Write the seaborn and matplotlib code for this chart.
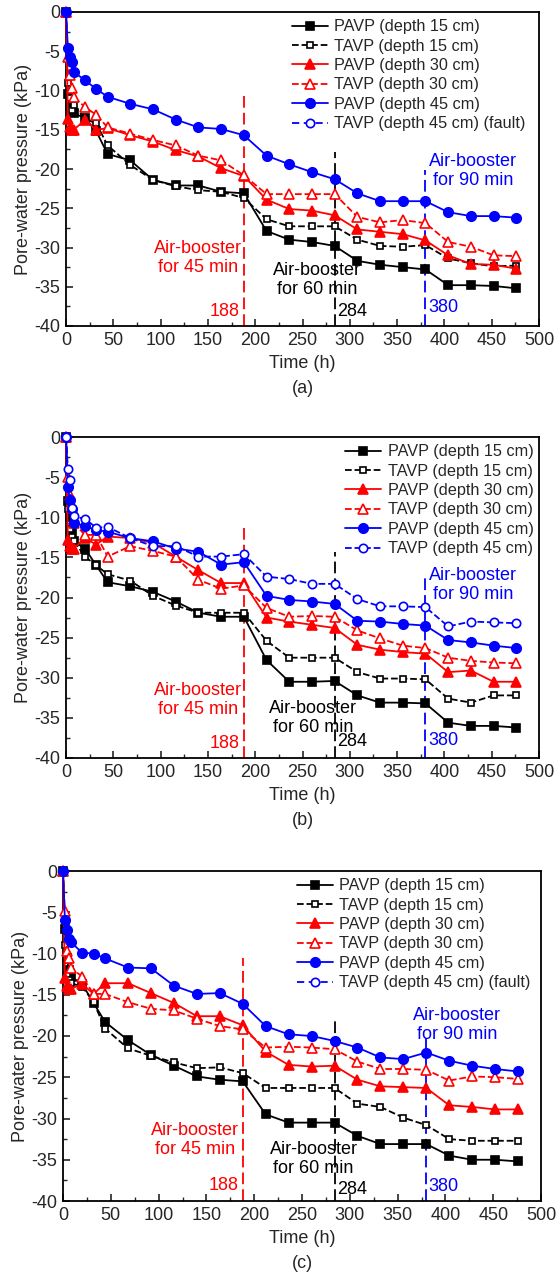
import matplotlib
matplotlib.use("Agg")
import matplotlib.pyplot as plt
import seaborn as sns
from matplotlib.ticker import MultipleLocator

sns.set_style("ticks")
plt.rcParams['font.family'] = ['Liberation Sans', 'DejaVu Sans']
plt.rcParams['axes.unicode_minus'] = False

# 時間軸 (h)
time_h = [0, 2, 4, 6, 8, 20, 32, 44, 68, 92, 116, 140, 164, 188, 212, 236,
          260, 284, 308, 332, 356, 380, 404, 428, 452, 476]

# (a)
a_pavp15 = [0, -10.5, -12.0, -12.5, -12.9, -13.5, -15.2, -18.1, -18.9, -21.4, -22.1, -22.1, -22.9,
            -23.1, -27.9, -29.0, -29.3, -29.8, -31.7, -32.2, -32.5, -32.8, -34.8, -34.8, -34.9, -35.2]
a_tavp15 = [0, -9.0, -11.0, -12.5, -11.8, -13.6, -14.2, -17.0, -19.5, -21.4, -22.2, -22.7, -22.9,
            -23.7, -26.4, -27.3, -27.3, -27.3, -29.0, -29.8, -29.9, -29.7, -31.4, -32.0, -32.4, -32.3]
a_pavp30 = [0, -13.6, -14.6, -15.0, -15.0, -13.8, -15.0, -14.8, -15.7, -16.5, -17.6, -18.4, -19.9,
            -20.9, -23.9, -25.1, -25.3, -25.9, -27.7, -28.0, -28.3, -29.1, -31.0, -32.1, -32.2, -32.7]
a_tavp30 = [0, -5.7, -8.0, -9.7, -10.8, -12.1, -13.1, -14.7, -15.5, -16.3, -17.0, -18.3, -18.9,
            -20.8, -23.2, -23.2, -23.2, -23.2, -26.1, -26.8, -26.5, -26.9, -29.3, -29.9, -31.0, -31.1]
a_pavp45 = [0, -4.6, -5.7, -6.4, -7.6, -8.7, -9.8, -10.8, -11.7, -12.4, -13.7, -14.7, -14.9,
            -15.7, -18.3, -19.4, -20.4, -21.3, -23.1, -24.1, -24.1, -24.1, -25.5, -26.0, -26.0, -26.2]
a_tavp45 = None  # fault

# (b)
b_pavp15 = [0, -8.0, -10.0, -11.8, -13.0, -13.9, -16.0, -18.1, -18.6, -19.3, -20.5, -21.9, -22.4,
            -22.4, -27.8, -30.5, -30.5, -30.4, -32.2, -33.1, -33.1, -33.2, -35.6, -36.0, -36.0, -36.2]
b_tavp15 = [0, -9.0, -11.5, -12.5, -12.9, -14.9, -16.0, -17.1, -17.9, -19.8, -21.0, -21.9, -21.9,
            -21.9, -25.4, -27.5, -27.5, -27.5, -29.3, -30.1, -30.1, -30.2, -32.6, -33.1, -32.2, -32.2]
b_pavp30 = [0, -12.8, -13.6, -13.9, -13.9, -12.6, -13.4, -12.4, -12.6, -13.2, -14.9, -16.6, -18.2,
            -18.2, -22.5, -23.0, -23.4, -23.8, -25.9, -26.5, -26.8, -27.0, -29.3, -29.1, -30.5, -30.5]
b_tavp30 = [0, -5.0, -7.2, -8.9, -10.7, -12.2, -12.2, -14.9, -13.6, -14.2, -14.9, -17.8, -18.9,
            -18.5, -21.3, -22.4, -22.3, -22.4, -24.1, -25.1, -26.0, -26.3, -27.5, -27.9, -28.1, -28.2]
b_pavp45 = [0, -6.2, -7.8, -9.0, -10.7, -11.1, -11.6, -11.8, -12.6, -13.0, -13.9, -14.3, -15.9,
            -15.6, -19.8, -20.3, -20.5, -20.8, -22.9, -23.0, -23.3, -23.5, -25.3, -25.6, -26.0, -26.3]
b_tavp45 = [0, -4.0, -5.3, -8.9, -9.9, -10.2, -11.3, -11.2, -12.6, -13.6, -13.6, -14.9, -14.9,
            -14.6, -17.4, -17.7, -18.3, -18.3, -20.2, -21.1, -21.1, -21.2, -23.6, -23.0, -23.1, -23.2]

# (c)
c_pavp15 = [0, -7.0, -10.5, -12.0, -12.8, -13.7, -16.0, -18.3, -20.5, -22.3, -23.6, -24.9, -25.3,
            -25.5, -29.5, -30.5, -30.5, -30.5, -32.1, -33.1, -33.1, -33.1, -34.5, -35.0, -35.0, -35.2]
c_tavp15 = [0, -9.0, -12.6, -13.2, -13.6, -14.0, -15.9, -19.1, -21.5, -22.4, -23.2, -23.9, -23.8,
            -24.5, -26.3, -26.3, -26.3, -26.3, -28.2, -28.6, -29.9, -30.8, -32.5, -32.7, -32.7, -32.7]
c_pavp30 = [0, -13.0, -13.9, -14.3, -14.3, -13.7, -14.9, -13.6, -13.6, -14.8, -16.0, -17.6, -17.6,
            -18.7, -21.9, -23.5, -23.7, -23.6, -25.3, -26.1, -26.2, -26.3, -28.4, -28.6, -28.9, -28.9]
c_tavp30 = [0, -4.8, -9.7, -10.6, -11.7, -12.8, -14.9, -14.9, -15.9, -16.7, -16.9, -17.9, -18.8,
            -19.2, -21.4, -21.3, -21.4, -21.6, -23.1, -24.0, -24.0, -24.1, -25.4, -24.9, -25.0, -25.2]
c_pavp45 = [0, -5.9, -7.1, -8.3, -8.6, -9.9, -10.0, -10.6, -11.7, -11.8, -13.9, -14.9, -14.8,
            -16.1, -18.8, -19.8, -20.0, -20.6, -21.4, -22.6, -22.8, -22.0, -23.0, -23.6, -24.0, -24.3]
c_tavp45 = None  # fault

# 增壓時間
booster_times = [188, 284, 380]
booster_colors = ["#ff0000", "black", "#0000ff"]
booster_texts = ["Air-booster\nfor 45 min", "Air-booster\nfor 60 min", "Air-booster\nfor 90 min"]

labels = ["PAVP (depth 15 cm)", "TAVP (depth 15 cm)", "PAVP (depth 30 cm)",
          "TAVP (depth 30 cm)", "PAVP (depth 45 cm)", "TAVP (depth 45 cm)"]
colors = ["black", "black", "#ff0000", "#ff0000", "#0000ff", "#0000ff"]
markers = ["s", "s", "^", "^", "o", "o"]
msizes = [5.2, 5, 7.2, 7, 6.8, 6]
filled = [True, False, True, False, True, False]

panels = [
    dict(series=[a_pavp15, a_tavp15, a_pavp30, a_tavp30, a_pavp45, a_tavp45],
         pos=[66 / 558, 1 - 326 / 1284, 473 / 558, 314 / 1284], tag="(a)",
         vtop=[-10.6, -17.8, -20.1],
         txt=[(139.5, -31.3), (265, -34.2), (430, -20.2)],
         num=[(184, -38.1), (287, -38.2), (382.5, -37.7)], leg_x=0.987),
    dict(series=[b_pavp15, b_tavp15, b_pavp30, b_tavp30, b_pavp45, b_tavp45],
         pos=[66 / 558, 1 - 758 / 1284, 473 / 558, 321 / 1284], tag="(b)",
         vtop=[-10.7, -14.3, -17.4],
         txt=[(140, -32.8), (261, -35.0), (430, -18.4)],
         num=[(184, -38.2), (287, -38.0), (382.5, -37.8)], leg_x=1.004),
    dict(series=[c_pavp15, c_tavp15, c_pavp30, c_tavp30, c_pavp45, c_tavp45],
         pos=[63 / 558, 1 - 1201 / 1284, 478 / 558, 330 / 1284], tag="(c)",
         vtop=[-10.6, -17.7, -20.1],
         txt=[(138, -32.6), (262, -34.9), (412, -18.7)],
         num=[(184, -38.1), (287, -38.6), (382.5, -38.3)], leg_x=0.994),
]

fig = plt.figure(figsize=(5.58, 12.84), dpi=100)

for p in panels:
    ax = fig.add_axes(p["pos"])
    for vals, lab, c, m, ms, f in zip(p["series"], labels, colors, markers, msizes, filled):
        ls = "-" if f else "--"
        lab_show = lab if (vals is not None or p["tag"] == "(b)") else lab + " (fault)"
        if vals is None:
            ax.plot([], [], color=c, ls=ls, dashes=(4, 2.5), marker=m, ms=ms,
                    mfc="white", mec=c, mew=1.2, lw=1.3, label=lab_show)
            continue
        kw = dict(color=c, marker=m, markersize=ms, markeredgecolor=c, markeredgewidth=1.2,
                  markerfacecolor=c if f else "white", linewidth=1.3, clip_on=False,
                  label=lab_show)
        if not f:
            kw.update(linestyle="--", dashes=(4, 2.5))
        sns.lineplot(x=time_h, y=vals, ax=ax, zorder=3, **kw)

    # 增壓標示線
    for t, c, top, txt, tp, npos in zip(booster_times, booster_colors, p["vtop"],
                                        booster_texts, p["txt"], p["num"]):
        ax.vlines(t, -40, top, colors=c, linestyles=(0, (6.5, 2.8)), linewidth=1.3, zorder=2)
        ax.text(tp[0], tp[1], txt, color=c, fontsize=13, ha="center", va="center",
                linespacing=1.15, zorder=4)
        ax.text(npos[0], npos[1], str(t), color=c, fontsize=13,
                ha="right" if t == 188 else "left", va="center", zorder=4)

    ax.set_xlim(0, 500)
    ax.set_ylim(-40, 0)
    ax.xaxis.set_major_locator(MultipleLocator(50))
    ax.xaxis.set_minor_locator(MultipleLocator(25))
    ax.yaxis.set_major_locator(MultipleLocator(5))
    ax.yaxis.set_minor_locator(MultipleLocator(2.5))
    ax.tick_params(which="major", direction="in", length=5, width=1.2, labelsize=13, pad=4)
    ax.tick_params(which="minor", direction="in", length=3, width=1.0)
    for s in ax.spines.values():
        s.set_linewidth(1.3)
        s.set_color("black")
    ax.set_xlabel("Time (h)", fontsize=13, labelpad=4.5)
    ax.set_ylabel("Pore-water pressure (kPa)", fontsize=13, labelpad=2)
    ax.annotate(p["tag"], xy=(0.5, 0), xycoords="axes fraction", xytext=(0, -45),
                textcoords="offset points", ha="center", va="center", fontsize=13)
    ax.legend(loc="upper right", bbox_to_anchor=(p["leg_x"], 1.0), frameon=False,
              fontsize=11.7, handlelength=2.2, handletextpad=0.4, labelspacing=0.27,
              borderaxespad=0.15, borderpad=0.3)

fig.savefig("out.png", dpi=100)
